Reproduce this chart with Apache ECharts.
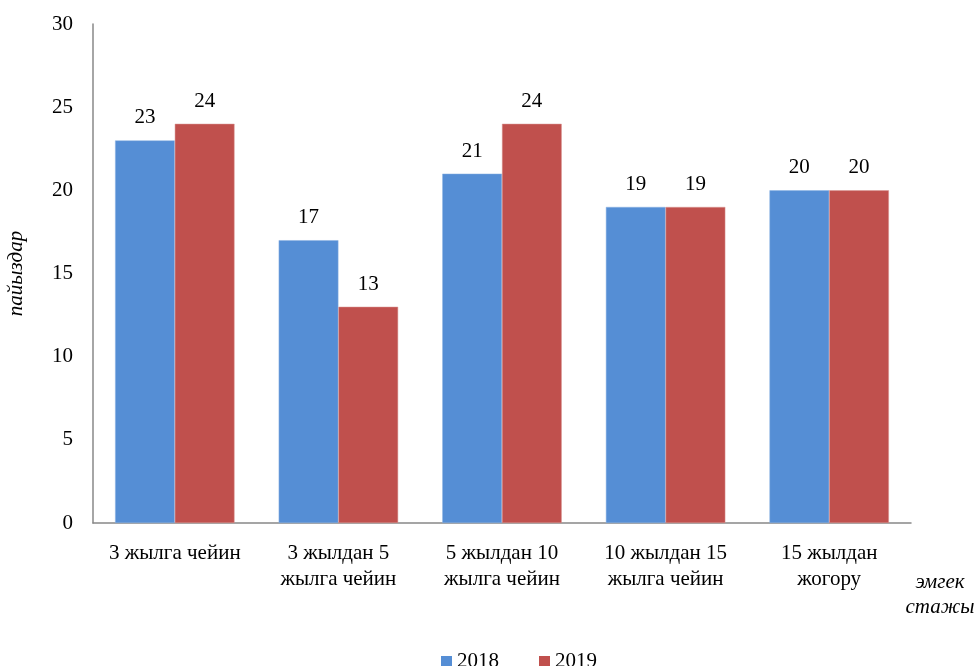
<!DOCTYPE html>
<html><head><meta charset="utf-8">
<script src="https://cdn.jsdelivr.net/npm/echarts@6/dist/echarts.min.js"></script>
<style>html,body{margin:0;padding:0;background:#fff}#c{width:977px;height:666px}</style>
</head><body><div id="c"></div>
<script>
const categories = ['3 жылга чейин', '3 жылдан 5\nжылга чейин', '5 жылдан 10\nжылга чейин', '10 жылдан 15\nжылга чейин', '15 жылдан\nжогору'];
const series2018 = [23, 17, 21, 19, 20];
const series2019 = [24, 13, 24, 19, 20];
const seriesNames = ['2018', '2019'];
const yAxisName = 'пайыздар';
const xAxisName = 'эмгек\nстажы';

const font = '"Liberation Serif", "Times New Roman", serif';
const chart = echarts.init(document.getElementById('c'));
const labelCfg = {show: true, position: 'top', distance: 12, color: '#000', fontFamily: font, fontSize: 21};
chart.setOption({
  animation: false,
  textStyle: {fontFamily: font},
  grid: {left: 93, right: 66, top: 24, bottom: 143, containLabel: false, outerBoundsMode: 'none'},
  legend: {
    data: seriesNames, left: 436, top: 646, itemWidth: 11, itemHeight: 11, itemGap: 40,
    icon: 'rect', itemStyle: {borderWidth: 0},
    textStyle: {fontFamily: font, fontSize: 21, color: '#000'}
  },
  xAxis: {
    type: 'category', data: categories,
    axisLine: {lineStyle: {color: '#888', width: 1.5}},
    axisTick: {show: false},
    axisLabel: {color: '#000', fontFamily: font, fontSize: 21, margin: 17, lineHeight: 26, interval: 0}
  },
  yAxis: {
    type: 'value', min: 0, max: 30, interval: 5,
    name: yAxisName, nameLocation: 'middle', nameGap: 66, nameRotate: 90,
    nameTextStyle: {fontFamily: font, fontSize: 21, fontStyle: 'italic', color: '#000'},
    axisLine: {show: true, lineStyle: {color: '#888', width: 1.5}},
    axisTick: {show: false},
    splitLine: {show: false},
    axisLabel: {color: '#000', fontFamily: font, fontSize: 21, margin: 20}
  },
  graphic: [{
    type: 'text', x: 940, y: 570,
    style: {text: xAxisName, font: 'italic 21px ' + font, fill: '#000', lineHeight: 25, align: 'center', textAlign: 'center'}
  }],
  series: [
    {name: seriesNames[0], type: 'bar', data: series2018, barGap: '0%', barCategoryGap: '27%',
     itemStyle: {color: '#558ED5', borderColor: '#8DB3E2', borderWidth: 0.5}, label: labelCfg},
    {name: seriesNames[1], type: 'bar', data: series2019,
     itemStyle: {color: '#C0504D', borderColor: '#D99694', borderWidth: 0.5}, label: labelCfg}
  ]
});
</script></body></html>
